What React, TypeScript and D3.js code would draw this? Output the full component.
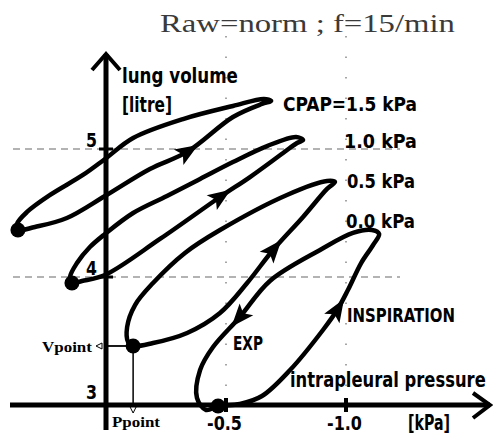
import React, { useLayoutEffect, useRef, useState } from "react";
import * as d3 from "d3";

const W = 493;
const H = 435;

const titleText = "Raw=norm ; f=15/min";
const pressureTicks = [-0.5, -1.0];
const pressureTickLabels = ["-0.5", "-1.0"];
const volumeTicks = [3, 4, 5];
const volumeGrid = [4, 5];
const pressureGrid = [-0.5, -1.0];
const loopLabels = ["CPAP=1.5 kPa", "1.0 kPa", "0.5 kPa", "0.0 kPa"];

// [pressure kPa, volume litre]; starts at end-expiration point, inspiration limb, tip, expiration limb
const loopCpap15: [number, number][] = [
  [0.367, 4.367], [0.296, 4.391], [0.163, 4.461], [0.004, 4.633], [-0.183, 4.844],
  [-0.338, 4.977], [-0.529, 5.25], [-0.65, 5.352], [-0.688, 5.375], [-0.658, 5.391],
  [-0.529, 5.336], [-0.321, 5.234], [-0.113, 5.086], [0.004, 4.922], [0.096, 4.797],
  [0.233, 4.641], [0.329, 4.508], [0.371, 4.414],
];
const loopCpap10: [number, number][] = [
  [0.142, 3.953], [0.1, 3.969], [0.004, 4.016], [-0.225, 4.297], [-0.475, 4.625],
  [-0.6, 4.781], [-0.738, 4.969], [-0.796, 5.047], [-0.821, 5.07], [-0.792, 5.094],
  [-0.671, 5.023], [-0.529, 4.898], [-0.392, 4.766], [-0.254, 4.633], [-0.113, 4.5],
  [0.004, 4.336], [0.067, 4.234], [0.121, 4.109], [0.15, 4.0],
];
const loopCpap05: [number, number][] = [
  [-0.113, 3.461], [-0.196, 3.484], [-0.338, 3.563], [-0.475, 3.719], [-0.588, 3.953],
  [-0.696, 4.211], [-0.821, 4.469], [-0.921, 4.688], [-0.954, 4.742], [-0.921, 4.75],
  [-0.754, 4.641], [-0.475, 4.367], [-0.329, 4.188], [-0.196, 3.953], [-0.121, 3.781],
  [-0.088, 3.609], [-0.092, 3.492],
];
const loopCpap00: [number, number][] = [
  [-0.467, 2.992], [-0.558, 3.008], [-0.65, 3.07], [-0.767, 3.273], [-0.904, 3.586],
  [-0.963, 3.742], [-1.008, 3.898], [-1.063, 4.109], [-1.113, 4.25], [-1.138, 4.336],
  [-1.108, 4.367], [-1.029, 4.344], [-0.892, 4.211], [-0.683, 3.969], [-0.558, 3.688],
  [-0.446, 3.453], [-0.392, 3.273], [-0.379, 3.055], [-0.417, 2.961],
];
const loops = [loopCpap15, loopCpap10, loopCpap05, loopCpap00];
// [loop index, vertex index] of direction arrows
const arrowVertices: [number, number][] = [[0, 5], [1, 4], [2, 5], [3, 5], [3, 14]];

const BOLD = '"Liberation Sans Narrow", "DejaVu Sans Condensed", "Arial Narrow", "DejaVu Sans", sans-serif';
const SERIF = '"Liberation Serif", "DejaVu Serif", serif';

function Label(props: { x: number; y: number; w: number; size: number; text: string; family?: string; weight?: string; fill?: string }) {
  const { x, y, w, size, text, family = BOLD, weight = "bold", fill = "#000" } = props;
  const ref = useRef<SVGTextElement>(null);
  const [sx, setSx] = useState(1);
  useLayoutEffect(() => {
    if (ref.current) {
      const len = ref.current.getComputedTextLength();
      if (len > 0) setSx(w / len);
    }
  }, [w, text, size, family]);
  return (
    <text ref={ref} x={0} y={0} transform={`translate(${x},${y}) scale(${sx},1)`}
      fontSize={size} fontFamily={family} fontWeight={weight} fill={fill}>{text}</text>
  );
}

export default function App() {
  const x = d3.scaleLinear().domain([0, -1]).range([106, 346]);
  const y = d3.scaleLinear().domain([3, 5]).range([405, 149]);
  const line = d3.line<[number, number]>()
    .x((d) => x(d[0]))
    .y((d) => y(d[1]))
    .curve(d3.curveCatmullRomClosed.alpha(0.5));

  const ax = x(0);
  const ay = y(3);
  const pp = loopCpap05[0];

  return (
    <svg width={W} height={H} style={{ position: "absolute", left: 0, top: 0, background: "#fff" }}>
      <rect x={0} y={0} width={W} height={H} fill="#fff" />
      {/* title */}
      <Label x={160} y={32} w={295} size={25} text={titleText} family={SERIF} weight="normal" fill="#3a3a3a" />

      {/* grid */}
      {volumeGrid.map((v) => (
        <line key={"hv" + v} x1={13} x2={400} y1={y(v)} y2={y(v)} stroke="#9a9a9a" strokeWidth={1.3} strokeDasharray="7 5" />
      ))}
      {pressureGrid.map((p) => (
        <line key={"vp" + p} x1={x(p)} x2={x(p)} y1={36} y2={400} stroke="#888" strokeWidth={1.5} strokeDasharray="1.5 19" />
      ))}

      {/* axes */}
      <line x1={10} x2={490} y1={ay} y2={ay} stroke="#000" strokeWidth={5} />
      <polyline points={`${473},${393} ${490},${ay} ${473},${418}`} fill="none" stroke="#000" strokeWidth={4} />
      <line x1={ax} x2={ax} y1={430} y2={54} stroke="#000" strokeWidth={5} />
      <polyline points={`${ax - 14},${70} ${ax},${54} ${ax + 14},${70}`} fill="none" stroke="#000" strokeWidth={4} />
      {pressureTicks.map((p, i) => (
        <g key={"pt" + p}>
          <line x1={x(p)} x2={x(p)} y1={ay - 7} y2={ay + 7} stroke="#000" strokeWidth={4} />
          <Label x={x(p) - 19} y={430} w={35} size={19} text={pressureTickLabels[i]} />
        </g>
      ))}
      {volumeTicks.map((v) => (
        <g key={"vt" + v}>
          {v !== 3 && <line x1={ax - 7} x2={ax + 7} y1={y(v)} y2={y(v)} stroke="#000" strokeWidth={3} />}
          <Label x={86} y={y(v) - (v === 3 ? 6 : 2)} w={11} size={19} text={String(v)} />
        </g>
      ))}

      {/* axis titles */}
      <Label x={122} y={83} w={116} size={21} text="lung volume" />
      <Label x={122} y={112} w={50} size={21} text="[litre]" />
      <Label x={290} y={387} w={196} size={21} text="intrapleural pressure" />
      <Label x={408} y={430} w={42} size={21} text="[kPa]" />

      {/* Vpoint / Ppoint */}
      <line x1={ax} x2={x(pp[0])} y1={y(pp[1])} y2={y(pp[1])} stroke="#000" strokeWidth={1.8} />
      <line x1={x(pp[0])} x2={x(pp[0])} y1={y(pp[1])} y2={411} stroke="#000" strokeWidth={1.5} />
      <polygon points={`${96},${y(pp[1])} ${102},${y(pp[1]) - 3} ${102},${y(pp[1]) + 3}`} fill="#fff" stroke="#000" strokeWidth={1} />
      <polygon points={`${x(pp[0])},${413} ${x(pp[0]) - 3},${407} ${x(pp[0]) + 3},${407}`} fill="#fff" stroke="#000" strokeWidth={1} />
      <Label x={42} y={352} w={50} size={15} text="Vpoint" family={SERIF} />
      <Label x={112} y={427} w={48} size={15} text="Ppoint" family={SERIF} />

      {/* loops */}
      {loops.map((pts, i) => (
        <g key={"loop" + i}>
          <path d={line(pts) || ""} fill="none" stroke="#000" strokeWidth={4.5} strokeLinejoin="round" />
          <circle cx={x(pts[0][0])} cy={y(pts[0][1])} r={7.5} fill="#000" />
        </g>
      ))}
      {arrowVertices.map(([li, vi], k) => {
        const pts = loops[li];
        const a = pts[vi - 1];
        const b = pts[vi + 1];
        const ang = (Math.atan2(y(b[1]) - y(a[1]), x(b[0]) - x(a[0])) * 180) / Math.PI;
        return (
          <path key={"arr" + k} d="M13,0 L-10,-9 L-5,0 L-10,9 Z" fill="#000"
            transform={`translate(${x(pts[vi][0])},${y(pts[vi][1])}) rotate(${ang})`} />
        );
      })}

      {/* loop labels */}
      <Label x={283} y={111} w={134} size={19} text={loopLabels[0]} />
      <Label x={344} y={148} w={73} size={19} text={loopLabels[1]} />
      <Label x={347} y={188} w={68} size={19} text={loopLabels[2]} />
      <Label x={346} y={228} w={69} size={19} text={loopLabels[3]} />
      <Label x={347} y={322} w={108} size={19} text="INSPIRATION" />
      <Label x={233} y={350} w={30} size={19} text="EXP" />
    </svg>
  );
}
